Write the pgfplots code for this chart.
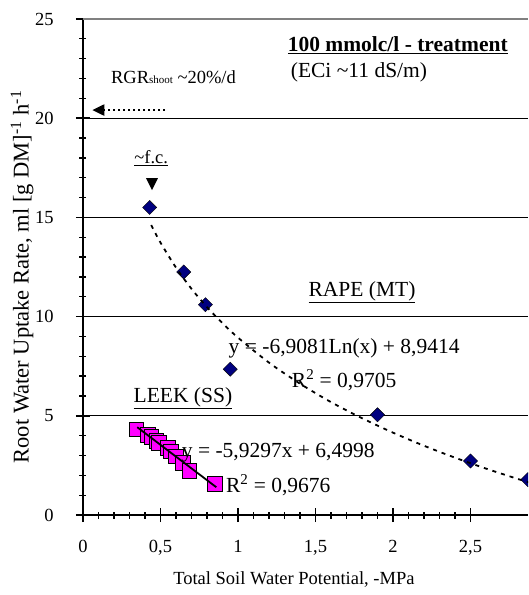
\documentclass[border=0pt]{standalone}
\usepackage{pgfplots}
\pgfplotsset{compat=1.18}
\usepackage{fontspec}
\setmainfont{Liberation Serif}
\usetikzlibrary{arrows.meta}
\definecolor{rapeblue}{HTML}{000080}
\definecolor{leekpink}{HTML}{FF00FF}
\pgfplotsset{mainax/.style={
  scale only axis, width=445bp, height=496bp,
  xmin=0, xmax=2.871, ymin=0, ymax=25,
  clip marker paths=true,
  axis x line=bottom, axis y line=left,
  axis line style={line width=2bp, -},
  xtick={0,0.5,1,1.5,2,2.5}, ytick={0,5,10,15,20,25},
  minor x tick num=4, minor y tick num=4,
  tick align=center, major tick length=14bp, minor tick length=7bp,
  major tick style={draw=black, line width=1.6bp},
  minor tick style={draw=black, line width=1.3bp},
  ymajorgrids, major grid style={black, line width=0.7bp},
  /pgf/number format/assume math mode=true, /pgf/number format/use comma}}

\begin{document}
\fontsize{18.5bp}{22bp}\selectfont
\begin{tikzpicture}
% fixes the page to the reference frame
\path (-83bp,-80bp) rectangle (445bp,515bp);
\begin{axis}[mainax, at={(0,0)}, anchor=south west,
  xticklabel style={yshift=-12bp},
  yticklabel style={xshift=-16bp},
  xlabel={Total Soil Water Potential, -MPa},
  ylabel={Root Water Uptake Rate, ml [g DM]\textsuperscript{-1} h\textsuperscript{-1}},
  xlabel style={at={(axis description cs:0.474,-0.131)}, anchor=center},
  ylabel style={at={(axis description cs:-0.137,0.48)}, anchor=center,
    font=\fontsize{22.5bp}{26bp}\selectfont},
]

% top grid line is grey in the original
\draw[gray, line width=1.5bp] (axis cs:0,25) -- (axis cs:2.871,25);

% LEEK (SS)
\addplot[only marks, mark=square*, mark size=7.3bp,
  mark options={draw=none, fill=leekpink}]
  coordinates {(0.342,4.32)(0.419,4.06)(0.44,3.96)(0.471,3.73)(0.49,3.65)
               (0.548,3.40)(0.565,3.22)(0.60,2.97)(0.642,2.65)(0.684,2.22)
               (0.848,1.59)};

% RAPE (MT)
\addplot[only marks, mark=square*, mark size=5.0bp,
  mark options={draw=none, fill=rapeblue, rotate=45}]
  coordinates {(0.43,15.5)(0.65,12.25)(0.79,10.6)(0.95,7.35)
               (1.90,5.05)(2.50,2.72)(2.87,1.78)};

% log trend, rape
\addplot[black, line width=1.8bp, dash pattern=on 4bp off 5bp, smooth, no marks]
  coordinates {(0.44,14.61)(0.5,13.73)(0.6,12.47)(0.7,11.40)(0.8,10.48)
               (0.9,9.67)(1.0,8.94)(1.2,7.68)(1.4,6.62)(1.6,5.69)(1.8,4.88)
               (2.0,4.15)(2.2,3.49)(2.4,2.89)(2.6,2.34)(2.8,1.83)(3.0,1.35)};

% linear trend, leek
\addplot[black, line width=1.8bp, no marks]
  coordinates {(0.35,4.425)(0.86,1.40)};

% annotations
\begin{scope}[font=\fontsize{21.5bp}{25bp}\selectfont]
\node[anchor=base west, font=\fontsize{21.5bp}{25bp}\selectfont\bfseries]
  at (axis cs:1.28,23.34) {\underline{100 mmolc/l - treatment}};
\node[anchor=base west] at (axis cs:1.30,22.03) {(ECi \textasciitilde 11 dS/m)};
\node at (axis cs:1.80,11.24) {\underline{RAPE (MT)}};
\node at (axis cs:0.645,5.90) {\underline{LEEK (SS)}};
\node at (axis cs:1.685,8.42) {y = -6,9081Ln(x) + 8,9414};
\node at (axis cs:1.685,6.8) {R\textsuperscript{2} = 0,9705};
\node at (axis cs:1.26,3.12) {y = -5,9297x + 6,4998};
\node at (axis cs:1.26,1.51) {R\textsuperscript{2} = 0,9676};
\end{scope}
\node[anchor=base west] at (axis cs:0.14,21.77)
  {RGR{\fontsize{11bp}{12bp}\selectfont shoot} \textasciitilde 20\%/d};
\node at (axis cs:0.44,18.0) {\underline{\textasciitilde f.c.}};

\draw[line width=2.2bp, dash pattern=on 2.5bp off 2.5bp,
  -{Triangle[width=11bp,length=12bp]}]
  (axis cs:0.53,20.41) -- (axis cs:0.06,20.41);
\fill (axis cs:0.445,16.68) ++(-6bp,6bp) -- ++(12bp,0) -- ++(-6bp,-12bp) -- cycle;

\end{axis}
\end{tikzpicture}
\end{document}
